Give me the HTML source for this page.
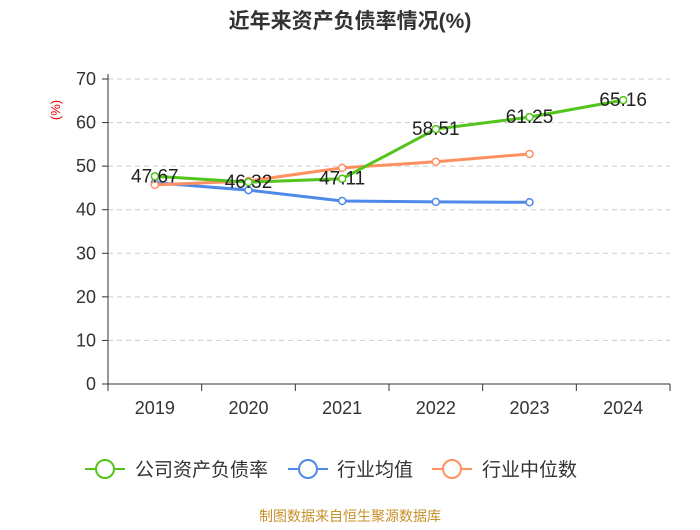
<!DOCTYPE html>
<html><head><meta charset="utf-8"><style>
body{margin:0;background:#fff;}
svg text{font-family:"Liberation Sans","Noto Sans CJK SC",sans-serif;}
</style></head><body>
<svg id="chart" width="700" height="525" viewBox="0 0 700 525" xmlns="http://www.w3.org/2000/svg">
<text x="350" y="28" text-anchor="middle" font-size="21" font-weight="bold" fill="#333">近年来资产负债率情况(%)</text>
<text transform="translate(60,110) rotate(-90)" text-anchor="middle" font-size="13" fill="#e00">(%)</text>
<g id="grid"></g><g id="axes"></g><g id="series"></g><g id="labels"></g>
<g>
<g>
<line x1="85" y1="469" x2="125" y2="469" stroke="#52c41a" stroke-width="2"/><circle cx="105" cy="469" r="9" fill="#fff" stroke="#52c41a" stroke-width="2"/>
<text x="135" y="476" font-size="19" fill="#333">公司资产负债率</text></g>
<g>
<line x1="288" y1="469" x2="328" y2="469" stroke="#4e88e8" stroke-width="2"/><circle cx="308" cy="469" r="9" fill="#fff" stroke="#4e88e8" stroke-width="2"/>
<text x="337" y="476" font-size="19" fill="#333">行业均值</text></g>
<g>
<line x1="432" y1="469" x2="472" y2="469" stroke="#ff9060" stroke-width="2"/><circle cx="452" cy="469" r="9" fill="#fff" stroke="#ff9060" stroke-width="2"/>
<text x="482" y="476" font-size="19" fill="#333">行业中位数</text></g>
</g>
<text x="350" y="521" text-anchor="middle" font-size="14" fill="#c8902a">制图数据来自恒生聚源数据库</text>
</svg>
<script>
const categories=["2019","2020","2021","2022","2023","2024"];
const companyValues=[47.67,46.32,47.11,58.51,61.25,65.16];
const industryAvg=[46.2,44.5,42.0,41.8,41.7];
const industryMedian=[45.7,46.6,49.6,51.0,52.8];
const yTicks=[0,10,20,30,40,50,60,70];
const NS="http://www.w3.org/2000/svg";
const x0=108,x1=670,yBase=384,yTop=79,yMax=70;
const band=(x1-x0)/categories.length;
const xPos=i=>x0+band*(i+0.5);
const yPos=v=>yBase-(v/yMax)*(yBase-yTop);
function mk(tag,attrs,parent){const e=document.createElementNS(NS,tag);for(const k in attrs)e.setAttribute(k,attrs[k]);parent.appendChild(e);return e;}
const grid=document.getElementById('grid'),axes=document.getElementById('axes'),series=document.getElementById('series'),labels=document.getElementById('labels');
yTicks.forEach(t=>{const y=yPos(t);
 if(t>0){const g=mk('line',{x1:x0,x2:x1,y1:y,y2:y,stroke:'#ccc','stroke-dasharray':'5,4'},grid);
 
 }
 const tk=mk('line',{x1:x0-6,x2:x0,y1:y,y2:y,stroke:'#333'},axes);
 
 
 const tx=mk('text',{x:x0-12,y:y+6,'text-anchor':'end','font-size':18,fill:'#333'},axes);tx.textContent=t;
 
 
});
const ya=mk('line',{x1:x0,x2:x0,y1:yTop-5,y2:yBase,stroke:'#333'},axes);


const xa=mk('line',{x1:x0,x2:x1,y1:yBase,y2:yBase,stroke:'#333'},axes);


for(let i=0;i<=categories.length;i++){const x=x0+band*i;const t=mk('line',{x1:x,x2:x,y1:yBase,y2:yBase+7,stroke:'#333'},axes);
 
 }
categories.forEach((c,i)=>{const t=mk('text',{x:xPos(i),y:yBase+30,'text-anchor':'middle','font-size':18,fill:'#333'},axes);t.textContent=c;
 
 });
function drawSeries(vals,color,name){
 const pts=vals.map((v,i)=>xPos(i)+','+yPos(v)).join(' ');
 const pl=mk('polyline',{points:pts,fill:'none',stroke:color,'stroke-width':3},series);
 
 
 vals.forEach((v,i)=>{const c=mk('circle',{cx:xPos(i),cy:yPos(v),r:3.5,fill:'#fff',stroke:color,'stroke-width':1.5},series);
 
 });
}
drawSeries(industryAvg,'#4e88e8','industry-avg');
drawSeries(industryMedian,'#ff9060','industry-median');
drawSeries(companyValues,'#52c41a','company');
companyValues.forEach((v,i)=>{const t=mk('text',{x:xPos(i),y:yPos(v)+6,'text-anchor':'middle','font-size':19,fill:'#222'},labels);t.textContent=v.toFixed(2);
 
 });
</script>
</body></html>
